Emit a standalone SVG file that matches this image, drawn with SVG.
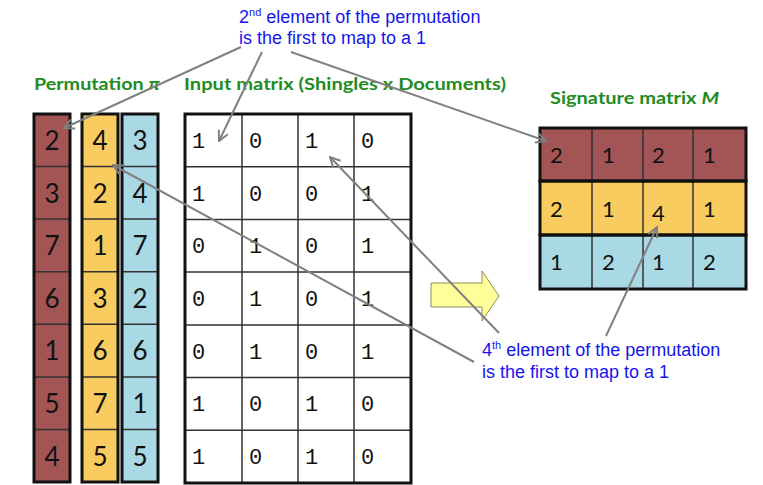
<svg xmlns="http://www.w3.org/2000/svg" width="763" height="485" viewBox="0 0 763 485">
<style>
.title{font-family:Lato,"Open Sans",sans-serif;font-weight:bold;font-size:17px;fill:#228B22}
.note{font-family:"Liberation Sans",Arial,sans-serif;font-size:18px;fill:#1414F0}
.sup{font-size:11px}
.pd{font-family:Lato,"Open Sans",sans-serif;font-size:26px;fill:#111;text-anchor:middle}
.sd{font-family:Lato,"Open Sans",sans-serif;font-size:22px;fill:#111}
.md{font-family:"Liberation Mono","DejaVu Sans Mono",monospace;font-size:22px;fill:#111}
.outer{fill:none;stroke:#111;stroke-width:3}
.inner{stroke:#333;stroke-width:1.5}
.conn{stroke:#808080;stroke-width:2;fill:none}
.red{fill:#A35555}
.yel{fill:#F8CC5E}
.blu{fill:#A9D9E5}
</style>
<defs>
<marker id="ah" viewBox="0 0 12 12" refX="11" refY="6" markerWidth="12" markerHeight="12" markerUnits="userSpaceOnUse" orient="auto"><path d="M1,1 L11,6 L1,11" fill="none" stroke="#808080" stroke-width="2"/></marker>
</defs>
<rect width="763" height="485" fill="#fff"/>

<g id="labels">
<text class="title" x="34" y="90" textLength="126" lengthAdjust="spacingAndGlyphs">Permutation <tspan font-style="italic">π</tspan></text>
<text class="title" x="184" y="90" textLength="322" lengthAdjust="spacingAndGlyphs">Input matrix (Shingles x Documents)</text>
<text class="title" x="550" y="104" textLength="169" lengthAdjust="spacingAndGlyphs">Signature matrix <tspan font-style="italic">M</tspan></text>
</g>

<g id="note-top">
<text class="note" x="239" y="23">2<tspan class="sup" dy="-7">nd</tspan><tspan dy="7"> element of the permutation</tspan></text>
<text class="note" x="239" y="44">is the first to map to a 1</text>
</g>
<g id="note-bottom">
<text class="note" x="482" y="356">4<tspan class="sup" dy="-7">th</tspan><tspan dy="7"> element of the permutation</tspan></text>
<text class="note" x="482" y="378">is the first to map to a 1</text>
</g>

<g id="perm-red">
<rect class="red" x="34" y="114" width="36" height="368"/>
<g class="inner"><line x1="34" y1="166.6" x2="70" y2="166.6"/><line x1="34" y1="219.1" x2="70" y2="219.1"/><line x1="34" y1="271.7" x2="70" y2="271.7"/><line x1="34" y1="324.3" x2="70" y2="324.3"/><line x1="34" y1="376.9" x2="70" y2="376.9"/><line x1="34" y1="429.4" x2="70" y2="429.4"/></g>
<rect class="outer" x="34" y="114" width="36" height="368"/>
<text class="pd" x="52" y="150">2</text><text class="pd" x="52" y="203">3</text><text class="pd" x="52" y="255">7</text><text class="pd" x="52" y="308">6</text><text class="pd" x="52" y="360">1</text><text class="pd" x="52" y="413">5</text><text class="pd" x="52" y="466">4</text>
</g>
<g id="perm-yellow">
<rect class="yel" x="82" y="114" width="36" height="368"/>
<g class="inner"><line x1="82" y1="166.6" x2="118" y2="166.6"/><line x1="82" y1="219.1" x2="118" y2="219.1"/><line x1="82" y1="271.7" x2="118" y2="271.7"/><line x1="82" y1="324.3" x2="118" y2="324.3"/><line x1="82" y1="376.9" x2="118" y2="376.9"/><line x1="82" y1="429.4" x2="118" y2="429.4"/></g>
<rect class="outer" x="82" y="114" width="36" height="368"/>
<text class="pd" x="100" y="150">4</text><text class="pd" x="100" y="203">2</text><text class="pd" x="100" y="255">1</text><text class="pd" x="100" y="308">3</text><text class="pd" x="100" y="360">6</text><text class="pd" x="100" y="413">7</text><text class="pd" x="100" y="466">5</text>
</g>
<g id="perm-blue">
<rect class="blu" x="122" y="114" width="36" height="368"/>
<g class="inner"><line x1="122" y1="166.6" x2="158" y2="166.6"/><line x1="122" y1="219.1" x2="158" y2="219.1"/><line x1="122" y1="271.7" x2="158" y2="271.7"/><line x1="122" y1="324.3" x2="158" y2="324.3"/><line x1="122" y1="376.9" x2="158" y2="376.9"/><line x1="122" y1="429.4" x2="158" y2="429.4"/></g>
<rect class="outer" x="122" y="114" width="36" height="368"/>
<text class="pd" x="140" y="150">3</text><text class="pd" x="140" y="203">4</text><text class="pd" x="140" y="255">7</text><text class="pd" x="140" y="308">2</text><text class="pd" x="140" y="360">6</text><text class="pd" x="140" y="413">1</text><text class="pd" x="140" y="466">5</text>
</g>

<g id="input-matrix">
<rect x="185" y="114" width="226" height="369" fill="#fff"/>
<g class="inner">
<line x1="242" y1="114" x2="242" y2="483"/><line x1="298" y1="114" x2="298" y2="483"/><line x1="354" y1="114" x2="354" y2="483"/>
<line x1="185" y1="166.7" x2="411" y2="166.7"/><line x1="185" y1="219.4" x2="411" y2="219.4"/><line x1="185" y1="272.1" x2="411" y2="272.1"/><line x1="185" y1="324.9" x2="411" y2="324.9"/><line x1="185" y1="377.6" x2="411" y2="377.6"/><line x1="185" y1="430.3" x2="411" y2="430.3"/>
</g>
<rect class="outer" x="185" y="114" width="226" height="369"/>
<text class="md" x="192" y="148">1</text><text class="md" x="249" y="148">0</text><text class="md" x="305" y="148">1</text><text class="md" x="361" y="148">0</text>
<text class="md" x="192" y="201">1</text><text class="md" x="249" y="201">0</text><text class="md" x="305" y="201">0</text><text class="md" x="361" y="201">1</text>
<text class="md" x="192" y="253">0</text><text class="md" x="249" y="253">1</text><text class="md" x="305" y="253">0</text><text class="md" x="361" y="253">1</text>
<text class="md" x="192" y="306">0</text><text class="md" x="249" y="306">1</text><text class="md" x="305" y="306">0</text><text class="md" x="361" y="306">1</text>
<text class="md" x="192" y="359">0</text><text class="md" x="249" y="359">1</text><text class="md" x="305" y="359">0</text><text class="md" x="361" y="359">1</text>
<text class="md" x="192" y="411">1</text><text class="md" x="249" y="411">0</text><text class="md" x="305" y="411">1</text><text class="md" x="361" y="411">0</text>
<text class="md" x="192" y="464">1</text><text class="md" x="249" y="464">0</text><text class="md" x="305" y="464">1</text><text class="md" x="361" y="464">0</text>
</g>

<g id="block-arrow">
<polygon points="431,283 482,283 482,271 499,296 482,321 482,307 431,307" fill="#FFFF99" stroke="#8C8C5A" stroke-width="1"/>
</g>

<g id="signature-matrix">
<rect class="red" x="540" y="128" width="206" height="53"/>
<rect class="yel" x="540" y="181" width="206" height="54"/>
<rect class="blu" x="540" y="235" width="206" height="54"/>
<g class="inner"><line x1="592" y1="128" x2="592" y2="289"/><line x1="643" y1="128" x2="643" y2="289"/><line x1="693" y1="128" x2="693" y2="289"/></g>
<rect class="outer" x="540" y="128" width="206" height="53"/>
<rect class="outer" x="540" y="181" width="206" height="54"/>
<rect class="outer" x="540" y="235" width="206" height="54"/>
<text class="sd" x="550" y="163">2</text><text class="sd" x="602" y="163">1</text><text class="sd" x="652" y="163">2</text><text class="sd" x="703" y="163">1</text>
<text class="sd" x="550" y="217">2</text><text class="sd" x="602" y="217">1</text><text class="sd" x="652" y="221">4</text><text class="sd" x="703" y="217">1</text>
<text class="sd" x="550" y="270">1</text><text class="sd" x="602" y="270">2</text><text class="sd" x="652" y="270">1</text><text class="sd" x="703" y="270">2</text>
</g>

<g id="connectors">
<line class="conn" x1="241" y1="47" x2="64" y2="128" marker-end="url(#ah)"/>
<line class="conn" x1="262" y1="52" x2="219" y2="141" marker-end="url(#ah)"/>
<line class="conn" x1="291" y1="52" x2="546" y2="141" marker-end="url(#ah)"/>
<line class="conn" x1="499" y1="333" x2="330" y2="157" marker-end="url(#ah)"/>
<line class="conn" x1="474" y1="362" x2="113" y2="165" marker-end="url(#ah)"/>
<line class="conn" x1="606" y1="336" x2="657" y2="227" marker-end="url(#ah)"/>
</g>
</svg>
